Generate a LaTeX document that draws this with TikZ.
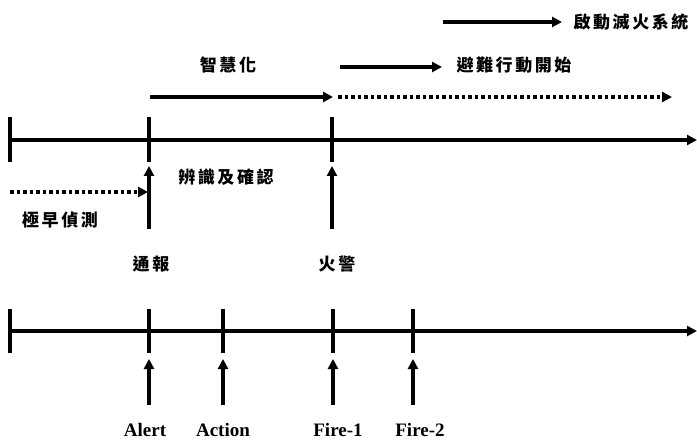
\documentclass[tikz,border=0pt]{standalone}
\usepackage{fontspec}
\setmainfont{Liberation Serif}
\newfontfamily\cjk[LetterSpace=15]{Noto Sans CJK TC}
\usetikzlibrary{arrows.meta}
\tikzset{
  lw/.style={line width=3.1pt},
  axisline/.style={lw,-{Triangle[length=10pt,width=10pt]}},
  tickline/.style={lw},
  arr/.style={lw,-{Triangle[length=10pt,width=10pt]}},
  dotarr/.style={arr,dash pattern=on 3.5pt off 3pt},
  cjklab/.style={font=\cjk\bfseries\fontsize{17}{17}\selectfont,inner sep=0pt},
  enlab/.style={font=\bfseries\fontsize{19}{19}\selectfont,inner sep=0pt,anchor=base}
}
\begin{document}
\begin{tikzpicture}[x=1pt,y=-1pt]
\useasboundingbox (0,0) rectangle (697,441);
% top axis
\coordinate (A0) at (10,140);
\coordinate (Aend) at (697,140);
\draw[axisline] (A0) -- (Aend);
\foreach \n/\x in {a/10,b/149,c/332}{
  \coordinate (T\n1) at (\x,117);
  \coordinate (T\n2) at (\x,162);
  \draw[tickline] (T\n1) -- (T\n2);
}
% upper arrows
\coordinate (S1) at (150,97); \coordinate (S2) at (333,97);
\draw[arr] (S1) -- (S2);
\coordinate (D1) at (338,97); \coordinate (D2) at (672,97);
\draw[dotarr] (D1) -- (D2);
\node[cjklab] (zhi) at (228,65) {智慧化};
\coordinate (E1) at (340,67); \coordinate (E2) at (442,67);
\draw[arr] (E1) -- (E2);
\node[cjklab] (bi) at (514,65) {避難行動開始};
\coordinate (F1) at (443,22); \coordinate (F2) at (562,22);
\draw[arr] (F1) -- (F2);
\node[cjklab] (qi) at (631,22) {啟動滅火系統};
% early detection
\coordinate (G1) at (10,192); \coordinate (G2) at (148,192);
\draw[dotarr] (G1) -- (G2);
\node[cjklab] (ji) at (60,220) {極早偵測};
\node[cjklab] (bian) at (226,177) {辨識及確認};
% up arrows top
\coordinate (U1a) at (149,229); \coordinate (U1b) at (149,166);
\draw[arr] (U1a) -- (U1b);
\coordinate (U2a) at (332,229); \coordinate (U2b) at (332,166);
\draw[arr] (U2a) -- (U2b);
\node[cjklab] (tong) at (151,264) {通報};
\node[cjklab] (huo) at (337,264) {火警};
% bottom axis
\coordinate (B0) at (10,331);
\coordinate (Bend) at (697,331);
\draw[axisline] (B0) -- (Bend);
\foreach \n/\x in {a/10,b/149,c/223,d/333,e/413}{
  \coordinate (K\n1) at (\x,309);
  \coordinate (K\n2) at (\x,353);
  \draw[tickline] (K\n1) -- (K\n2);
}
\foreach \n/\x in {b/149,c/223,d/333,e/413}{
  \coordinate (V\n1) at (\x,405);
  \coordinate (V\n2) at (\x,359);
  \draw[arr] (V\n1) -- (V\n2);
}
\node[enlab] (alert) at (145,436) {Alert};
\node[enlab] (action) at (223,436) {Action};
\node[enlab] (fire1) at (338,436) {Fire-1};
\node[enlab] (fire2) at (420,436) {Fire-2};
\end{tikzpicture}
\end{document}
